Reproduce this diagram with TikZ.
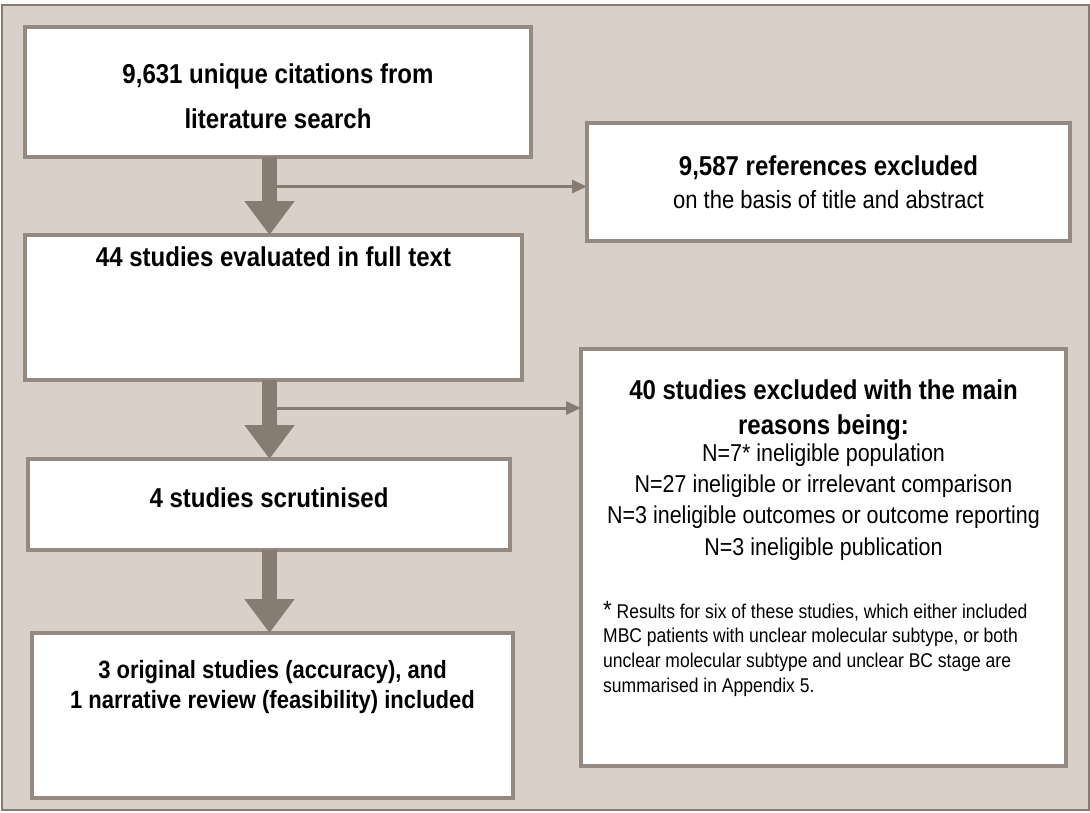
\documentclass[tikz,border=0pt]{standalone}
\usepackage{fontspec}
\setmainfont{Liberation Sans}[FakeStretch=0.88]
\usetikzlibrary{arrows.meta}
\definecolor{panelbg}{RGB}{217,209,201}
\definecolor{boxedge}{RGB}{148,138,129}
\definecolor{arrowfill}{RGB}{135,124,114}
\tikzset{
  box/.style={draw=boxedge,line width=3.5pt,fill=white,inner sep=0pt,outer sep=0pt},
  head/.style={font=\bfseries\fontsize{27.3}{#1}\selectfont,align=center,inner sep=0pt},
  head/.default=30,
  plain/.style={font=\fontsize{24.4}{31.3}\selectfont,align=center,inner sep=0pt},
  note/.style={font=\fontsize{19.9}{24.7}\selectfont,align=left,inner sep=0pt},
  trunk/.style={arrowfill,line width=15pt,-{Triangle[length=34pt,width=48pt]}},
  branch/.style={arrowfill,line width=3pt,-{Triangle[length=15pt,width=13pt]}}
}
\begin{document}
\begin{tikzpicture}[x=1pt,y=-1pt]
\fill[white] (0,0) rectangle (1090,812);
\draw[draw=arrowfill,line width=2pt,fill=panelbg] (2,5) rectangle (1089,810);

% boxes
\node[box,minimum width=506pt,minimum height=130pt] at (278,92) (Cit) {};
\node[box,minimum width=483pt,minimum height=118pt] at (828.5,182) (Ref) {};
\node[box,minimum width=497pt,minimum height=145pt] at (273.5,307.5) (Full) {};
\node[box,minimum width=485pt,minimum height=417pt] at (823.5,557.5) (Excl) {};
\node[box,minimum width=482pt,minimum height=91pt] at (269,504.5) (Scr) {};
\node[box,minimum width=481pt,minimum height=165pt] at (272.5,715.5) (Inc) {};

% texts
\node[head=45] at (278,96.5) (CitT) {9,631 unique citations from\\literature search};
\node[plain,font=\fontsize{25}{33}\selectfont] at (828.5,182) (RefT)
  {{\bfseries\fontsize{27.3}{33}\selectfont 9,587 references excluded}\\on the basis of title and abstract};
\node[head] at (273.5,257) (FullT) {44 studies evaluated in full text};
\node[head=35] at (823.5,410) (ExclT) {40 studies excluded with the main\\reasons being:};
\node[plain] at (823.5,502) (ExclN) {N=7* ineligible population\\
  N=27 ineligible or irrelevant comparison\\
  N=3 ineligible outcomes or outcome reporting\\
  N=3 ineligible publication};
\node[note,anchor=west] at (603,648.7) (ExclF) {{\fontsize{25}{25}\selectfont *} Results for six of these studies, which either included\\
  MBC patients with unclear molecular subtype, or both\\
  unclear molecular subtype and unclear BC stage are\\
  summarised in Appendix 5.};
\node[head] at (269,498) (ScrT) {4 studies scrutinised};
\node[head,font=\bfseries\fontsize{25}{30}\selectfont] at (272.5,687) (IncT)
  {3 original studies (accuracy), and\\1 narrative review (feasibility) included};

% arrows
\coordinate (S) at (269.5,0);
\coordinate (F1) at (269.5,186.5);
\coordinate (F2) at (269.5,408);
\draw[branch] (F1) -- (F1 -| Ref.west);
\draw[branch] (F2) -- (F2 -| Excl.west);
\draw[trunk] (Cit.south -| S) -- (Full.north -| S);
\draw[trunk] (Full.south -| S) -- (Scr.north -| S);
\draw[trunk] (Scr.south -| S) -- (Inc.north -| S);
\end{tikzpicture}
\end{document}
